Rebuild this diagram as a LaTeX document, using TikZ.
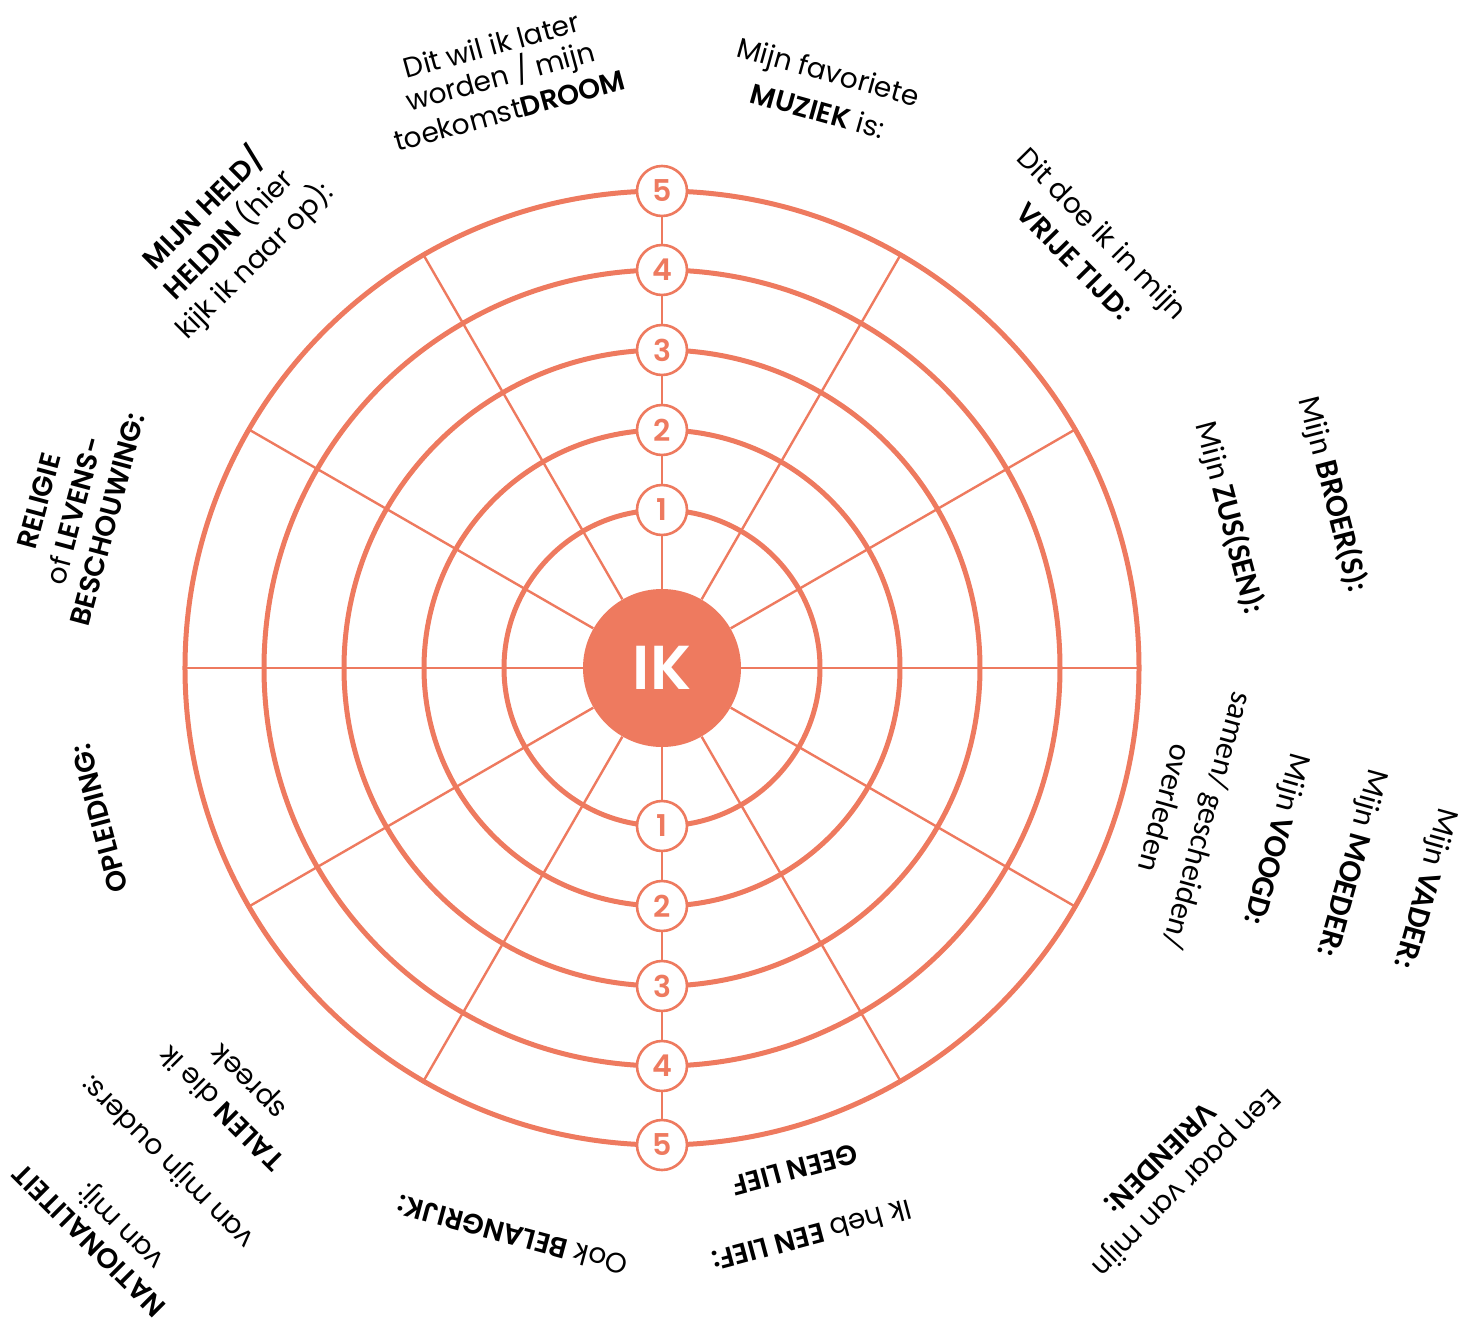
\documentclass[tikz,border=0pt]{standalone}
\usepackage{fontspec}
\IfFontExistsTF{Poppins SemiBold}{\setmainfont{Poppins}[BoldFont={Poppins SemiBold}]}{\setmainfont{Poppins}}
\newfontfamily\calfont{Carlito}
\definecolor{orr}{RGB}{238,122,95}
\begin{document}
\begin{tikzpicture}[x=0.5pt,y=0.5pt,
  ring/.style={draw=orr, line width=2.5pt},
  spoke/.style={draw=orr, line width=1.2pt},
  numc/.style={circle, draw=orr, fill=white, line width=1.3pt, minimum size=25pt, inner sep=0pt, text=orr, font=\bfseries\fontsize{15}{15}\selectfont},
  lab/.style={inner sep=0pt, font=\fontsize{14}{14}\selectfont},
  clab/.style={inner sep=0pt, font=\calfont\fontsize{16}{16}\selectfont}]
\useasboundingbox (-662,-665) rectangle (798,668);
% rings
\foreach \r in {158,238,318,398,477} \draw[ring] (0,0) circle[radius=\r];
% centre
\node[circle, fill=orr, minimum size=79pt, inner sep=0pt, text=white, font=\bfseries\fontsize{31}{31}\selectfont] (ik) at (0,0) {IK};
% spokes
\foreach \a in {0,30,...,330} {
  \coordinate (s\a) at (\a:477);
  \draw[spoke] (ik) -- (s\a);
}
% numbered circles
\foreach \n/\r in {1/158,2/238,3/318,4/398,5/477} {
  \node[numc] (t\n) at (90:\r) {\n};
  \node[numc] (b\n) at (270:\r) {\n};
}
% labels 105
\node[lab, rotate=15.3] (l1a) at (105.3:646) {Dit wil ik later};
\node[lab, rotate=15.3] (l1b) at (105.3:613) {worden / mijn};
\node[lab, rotate=15.3] (l1c) at (105.3:578) {toekomst\textbf{DROOM}};
% 75
\node[lab, rotate=-15.6] (l2a) at (74.4:616) {Mijn favoriete};
\node[lab, rotate=-15.6] (l2b) at (74.4:579) {\textbf{MUZIEK} is:};
% 135
\node[lab, rotate=45] (l3a) at (135:650) {\textbf{MIJN HELD/}};
\node[lab, rotate=45] (l3b) at (135:614) {\textbf{HELDIN} (hier};
\node[lab, rotate=45] (l3c) at (135:576) {kijk ik naar op):};
% 165
\node[lab, rotate=75] (l4a) at (165:645) {\textbf{RELIGIE}};
\node[lab, rotate=75] (l4b) at (165:609) {of \textbf{LEVENS-}};
\node[lab, rotate=75] (l4c) at (165:574) {\textbf{BESCHOUWING:}};
% 195
\node[lab, rotate=105] (l5) at (195:582) {\textbf{OPLEIDING:}};
% 225
\node[lab, rotate=135] (l6a) at (225:810) {\textbf{NATIONALITEIT}};
\node[lab, rotate=135] (l6b) at (225.9:776) {van mij:};
\node[lab, rotate=135] (l6c) at (225:697) {van mijn ouders:};
\node[lab, rotate=135] (l6d) at (225:624) {\textbf{TALEN} die ik};
\node[lab, rotate=135] (l6e) at (225:583) {spreek};
% 255
\node[lab, rotate=165] (l7) at (255.2:587) {Ook \textbf{BELANGRIJK:}};
% 285
\node[lab, rotate=195] (l8a) at (284.8:587) {Ik heb \textbf{EEN LIEF:}};
\node[lab, rotate=195] (l8b) at (284.8:519) {\textbf{GEEN LIEF}};
% 315
\node[lab, rotate=225] (l9a) at (315.5:733) {Een paar van mijn};
\node[lab, rotate=225] (l9b) at (315.5:699) {\textbf{VRIENDEN:}};
% 345
\node[clab, rotate=-105.6] (l10a) at (344.4:565) {samen/ gescheiden/};
\node[clab, rotate=-105.6] (l10b) at (344.4:523) {overleden};
\node[clab, rotate=-105.6] (l10c) at (344.4:637) {Mijn \textbf{VOOGD:}};
\node[clab, rotate=-105.6] (l10d) at (344.2:716) {Mijn \textbf{MOEDER:}};
\node[clab, rotate=-105.6] (l10e) at (343.9:794) {Mijn \textbf{VADER:}};
% 15
\node[clab, rotate=-75.2] (l11a) at (14.8:587) {Mijn \textbf{ZUS(SEN):}};
\node[clab, rotate=-75.5] (l11b) at (14.5:693) {Mijn \textbf{BROER(S):}};
% 45
\node[lab, rotate=-45.4] (l12a) at (44.6:616) {Dit doe ik in mijn};
\node[lab, rotate=-45.4] (l12b) at (44.6:579) {\textbf{VRIJE TIJD:}};
\end{tikzpicture}
\end{document}
